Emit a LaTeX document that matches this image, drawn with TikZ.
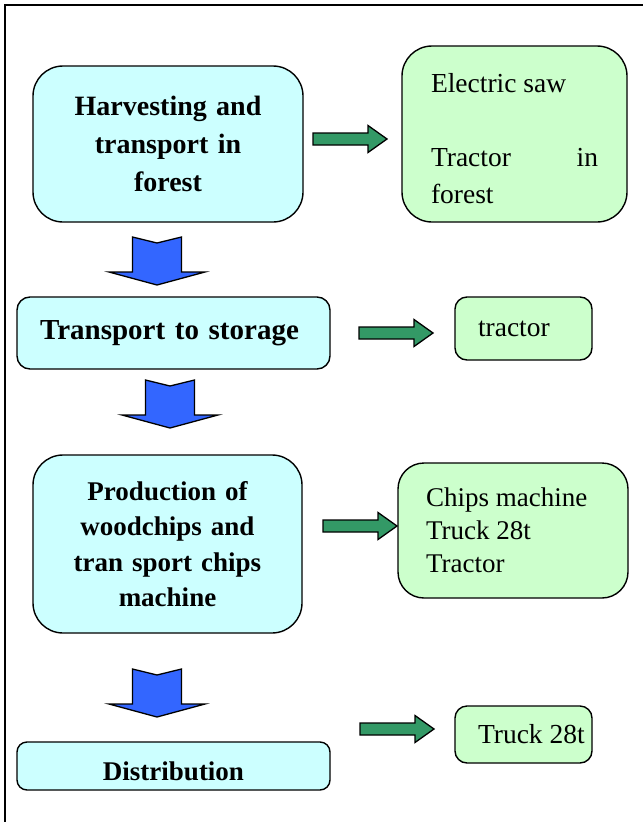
\documentclass[tikz,border=0pt]{standalone}
\usepackage{fontspec}
\setmainfont{Liberation Serif}
\usetikzlibrary{calc}
\definecolor{paleaqua}{HTML}{CCFFFF}
\definecolor{palemint}{HTML}{CCFFCC}
\definecolor{flowblue}{HTML}{3366FF}
\definecolor{seagreen}{HTML}{339966}

\tikzset{
  stage/.style={draw,line width=1.4pt,fill=paleaqua,rounded corners=#1,inner sep=0pt,align=center},
  means/.style={draw,line width=1.4pt,fill=palemint,rounded corners=#1,inner ysep=0pt,align=flush left,
    font=\fontsize{27.5}{37}\selectfont},
  lead/.style={execute at begin node={\leftskip=#1\relax}},
  bigbold/.style={font=\fontsize{28}{38}\selectfont\bfseries},
  midbold/.style={font=\fontsize{27}{35.5}\selectfont\bfseries},
  downarrow/.pic={
    \filldraw[fill=flowblue,line width=1.3pt,line join=miter]
      (-24.5,0) -- (0,6) -- (24.5,0) -- (24.5,35) -- (48,35) -- (0,48) -- (-48,35) -- (-24.5,35) -- cycle;
  },
  sidearrow/.pic={
    \filldraw[fill=seagreen,line width=1.3pt,line join=miter]
      (0,-6) -- (55,-6) -- (55,-13.5) -- (74,0) -- (55,13.5) -- (55,6) -- (0,6) -- cycle;
  }
}

\begin{document}
\begin{tikzpicture}[x=1pt,y=-1pt]
\useasboundingbox (0,0) rectangle (643,822);
\draw[line width=2pt] (5,822) -- (5,5) -- (643,5);

\node[stage=30pt,bigbold,minimum width=270pt,minimum height=156pt,text width=250pt] (harvest) at (168,144)
  {Harvesting and\\transport in\\forest};
\node[stage=13pt,font=\fontsize{29}{38}\selectfont\bfseries,minimum width=313pt,minimum height=72pt,text width=300pt] (storage) at (173.5,333)
  {\hspace*{-8pt}Transport to storage};
\node[stage=30pt,midbold,minimum width=269pt,minimum height=178pt,text width=250pt] (chips) at (167.5,544)
  {Production of\\woodchips and\\tran sport chips\\machine};
\node[stage=10pt,midbold,minimum width=313pt,minimum height=48pt,text width=300pt] (distrib) at (173.5,766)
  {\rule{0pt}{30pt}Distribution};

\node[means=30pt,minimum width=225pt,minimum height=176pt,inner xsep=29pt,text width=167pt] (forestkit) at (514.5,134)
  {\rule{0pt}{28pt}Electric saw\\[37pt]Tractor\hfill in\\forest};
\node[means=12pt,minimum width=137pt,minimum height=63pt,inner xsep=0pt,text width=137pt,lead=23pt] (tractor) at (523.5,328.5)
  {tractor};
\node[means=26pt,minimum width=230pt,minimum height=135pt,inner xsep=28pt,text width=174pt,
  font=\fontsize{27}{33}\selectfont] (chipskit) at (513,530.5)
  {Chips machine\\Truck 28t\\Tractor};
\node[means=12pt,minimum width=137pt,minimum height=57pt,inner xsep=0pt,text width=137pt,lead=23pt] (truck) at (523.5,734.5)
  {Truck 28t};

\foreach \cx/\cy in {157/237,170/380,157/669}
  \pic at (\cx,\cy) {downarrow};
\foreach \sx/\sy in {313/139,359/333,323/526,360/729}
  \pic at (\sx,\sy) {sidearrow};
\end{tikzpicture}
\end{document}
